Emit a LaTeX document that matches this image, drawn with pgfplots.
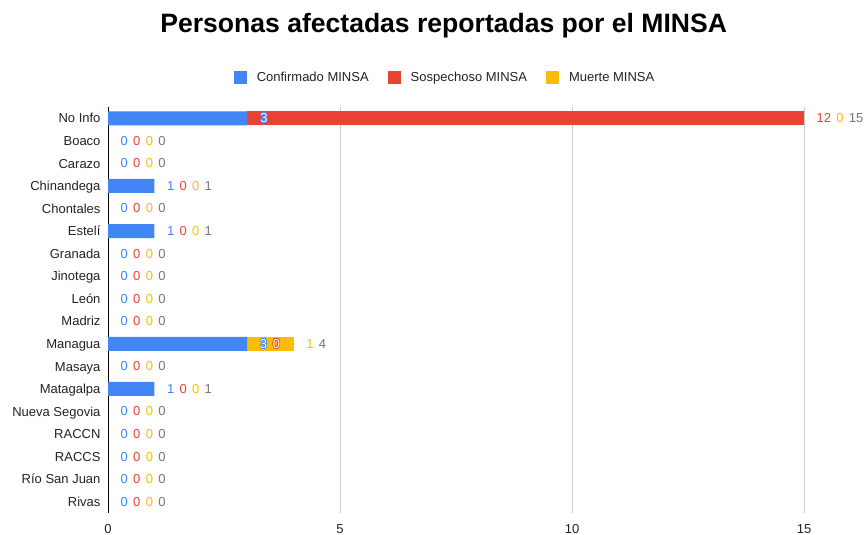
\documentclass[border=0pt]{standalone}
\usepackage{pgfplots}
\usepackage{pgfplotstable}
\pgfplotsset{compat=1.18}
\usepackage{fontspec}
\setmainfont{Liberation Sans}
\definecolor{cBlue}{HTML}{4285F4}
\definecolor{cRed}{HTML}{EA4335}
\definecolor{cYel}{HTML}{FBBC04}
\definecolor{cGray}{HTML}{757575}
\definecolor{cGrid}{HTML}{CCCCCC}
\definecolor{cText}{HTML}{222222}
\newcommand{\lfont}{\fontsize{13}{15}\selectfont}
% row y, total, confirmado, sospechoso, muerte
\newcommand{\lab}[5]{\node[anchor=west, inner sep=0pt, xshift=12.5pt, font=\lfont] at (axis cs:#2,#1) {\textcolor{cBlue}{#3}\hspace{5.3pt}\textcolor{cRed}{#4}\hspace{5.3pt}\textcolor{cYel}{#5}\hspace{5.3pt}\textcolor{cGray}{#2}};}
\pgfplotstableread{
y c s m t
17 3 12 0 15
16 0 0 0 0
15 0 0 0 0
14 1 0 0 1
13 0 0 0 0
12 1 0 0 1
11 0 0 0 0
10 0 0 0 0
9 0 0 0 0
8 0 0 0 0
7 3 0 1 4
6 0 0 0 0
5 1 0 0 1
4 0 0 0 0
3 0 0 0 0
2 0 0 0 0
1 0 0 0 0
0 0 0 0 0
}\datatable
\begin{document}
\begin{tikzpicture}[x=1pt,y=1pt]
\path[use as bounding box] (0,0) rectangle (865,535);
\node[font=\fontsize{26.55}{30}\selectfont\bfseries, anchor=base] at (443.7,502.7) {Personas afectadas reportadas por el MINSA};
\begin{axis}[
  at={(108pt,22pt)}, anchor=south west,
  scale only axis, width=696pt, height=406pt,
  xbar stacked, bar width=14pt,
  xmin=0, xmax=15, ymin=-0.5, ymax=17.5,
  xtick={0,5,10,15}, ytick={0,...,17},
  yticklabels={Rivas, Río San Juan, RACCS, RACCN, Nueva Segovia, Matagalpa, Masaya, Managua, Madriz, León, Jinotega, Granada, Estelí, Chontales, Chinandega, Carazo, Boaco, No Info},
  axis lines*=left,
  x axis line style={draw=none},
  y axis line style={draw=black, line width=1pt},
  major tick length=0pt,
  xmajorgrids, grid style={cGrid, line width=0.8pt},
  tick label style={font=\lfont, text=cText},
  xticklabel style={anchor=base, yshift=-21pt},
  yticklabel style={anchor=base east, xshift=-4pt, yshift=-4.65pt},
  /pgf/number format/assume math mode=true,
  clip=false,
  legend columns=3,
  legend image code/.code={\fill[#1] (0pt,-6.5pt) rectangle (13pt,6.5pt);},
  legend style={at={(axis description cs:0.4828,1)}, anchor=center, yshift=29pt, draw=none, fill=none,
    font=\lfont, text=cText, nodes={inner sep=0pt},
    /tikz/every odd column/.append style={column sep=10pt},
    /tikz/every even column/.append style={column sep=19pt}},
]
\addplot[fill=cBlue, draw=none] table[x=c, y=y] {\datatable};
\addlegendentry{Confirmado MINSA}
\addplot[fill=cRed, draw=none] table[x=s, y=y] {\datatable};
\addlegendentry{Sospechoso MINSA}
\addplot[fill=cYel, draw=none] table[x=m, y=y] {\datatable};
\addlegendentry{Muerte MINSA}
\coordinate (ni) at (axis cs:3,17);
\coordinate (mg) at (axis cs:3,7);
\node[anchor=west, inner sep=0pt, xshift=12.5pt, font=\lfont] at (axis cs:15,17) {\textcolor{cRed}{12}\hspace{5.3pt}\textcolor{cYel}{0}\hspace{5.3pt}\textcolor{cGray}{15}};
\lab{16}{0}{0}{0}{0}
\lab{15}{0}{0}{0}{0}
\lab{14}{1}{1}{0}{0}
\lab{13}{0}{0}{0}{0}
\lab{12}{1}{1}{0}{0}
\lab{11}{0}{0}{0}{0}
\lab{10}{0}{0}{0}{0}
\lab{9}{0}{0}{0}{0}
\lab{8}{0}{0}{0}{0}
\node[anchor=west, inner sep=0pt, xshift=12.5pt, font=\lfont] at (axis cs:4,7) {\textcolor{cYel}{1}\hspace{5.3pt}\textcolor{cGray}{4}};
\lab{6}{0}{0}{0}{0}
\lab{5}{1}{1}{0}{0}
\lab{4}{0}{0}{0}{0}
\lab{3}{0}{0}{0}{0}
\lab{2}{0}{0}{0}{0}
\lab{1}{0}{0}{0}{0}
\lab{0}{0}{0}{0}{0}
\end{axis}
\foreach \dx/\dy in {-0.8/0,0.8/0,0/-0.8,0/0.8,-0.6/-0.6,0.6/0.6,-0.6/0.6,0.6/-0.6}{
  \node[text=cBlue, font=\lfont, inner sep=0pt, xshift=\dx pt, yshift=\dy pt] at ([xshift=16.8pt]ni) {3};
  \node[text=cBlue, font=\lfont, inner sep=0pt, xshift=\dx pt, yshift=\dy pt] at ([xshift=16.3pt]mg) {3};
  \node[text=cRed, font=\lfont, inner sep=0pt, xshift=\dx pt, yshift=\dy pt] at ([xshift=29.3pt]mg) {0};
}
\node[text=white, font=\lfont, inner sep=0pt] at ([xshift=16.8pt]ni) {3};
\node[text=white, font=\lfont, inner sep=0pt] at ([xshift=16.3pt]mg) {3};
\node[text=white, font=\lfont, inner sep=0pt] at ([xshift=29.3pt]mg) {0};
\end{tikzpicture}
\end{document}
